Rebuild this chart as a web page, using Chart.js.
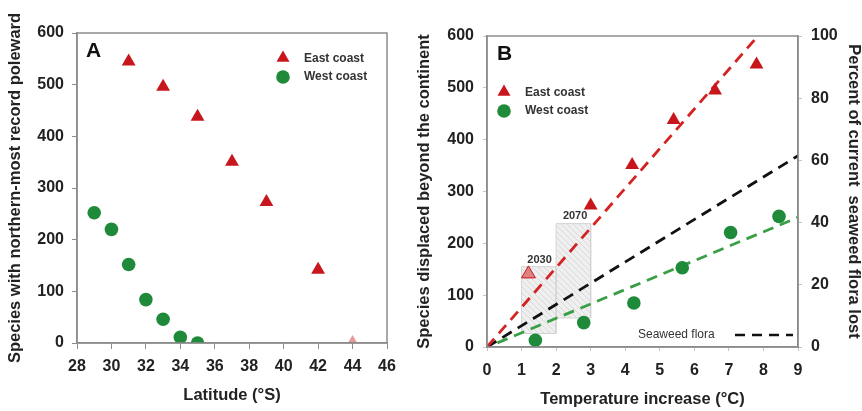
<!DOCTYPE html>
<html>
<head>
<meta charset="UTF-8">
<title>Seaweed range shifts</title>
<script src="https://cdn.jsdelivr.net/npm/chart.js@4.4.1/dist/chart.umd.min.js"></script>
<style>
  html, body { margin: 0; padding: 0; background: #fff; }
  #wrap { position: relative; width: 862px; height: 411px; }
  #boxA { position: absolute; left: 0; top: 0; width: 415px; height: 411px; }
  #boxB { position: absolute; left: 415px; top: 0; width: 447px; height: 411px; }
</style>
</head>
<body>
<div id="wrap">
  <div id="boxA"><canvas id="chartA"></canvas></div>
  <div id="boxB"><canvas id="chartB"></canvas></div>
</div>
<script>
// Panel A: latitude vs species
var latEast  = [31, 33, 35, 37, 39, 42, 44];
var eastA    = [545, 496, 438, 351, 273, 142, 0];
var latWest  = [29, 30, 31, 32, 33, 34, 35];
var westA    = [252, 220, 152, 84, 46, 11, 0];
var latTicks = [28, 30, 32, 34, 36, 38, 40, 42, 44, 46];

// Panel B: temperature increase vs species displaced
var tempEast = [1.2, 3, 4.2, 5.4, 6.6, 7.8];
var eastB    = [141, 273, 351, 438, 495, 545];
var tempWest = [1.4, 2.8, 4.25, 5.65, 7.05, 8.45];
var westB    = [13, 47, 85, 153, 221, 252];

// fitted lines (two end points each)
var eastFitX = [0, 7.84], eastFitY = [0, 600];
var westFitX = [0.3, 9],  westFitY = [8, 250];
var floraFitX = [0, 9],   floraFitY = [0, 61.5];   // percent, right axis

// projection boxes: [xFrom, xTo, yFrom, yTo]
var box2030 = [1, 2, 26, 155];
var box2070 = [2, 3, 56, 238];
var yearLabels = ['2030', '2070'];
var yearX = [1.52, 2.55];
var yearY = [167, 253];

var FONT = '"Liberation Sans", Arial, sans-serif';
var RED = '#c8161d', GREEN = '#1f8a3a', AXIS = '#8c8c8c', TXT = '#222';

function pts(xs, ys) {
    return xs.map(function (x, i) { return { x: x, y: ys[i] }; });
}
function rectPts(b) {
    return [{x:b[0],y:b[2]}, {x:b[0],y:b[3]}, {x:b[1],y:b[3]}, {x:b[1],y:b[2]}, {x:b[0],y:b[2]}];
}

// light hatch for the projection boxes
function hatch() {
    var c = document.createElement('canvas');
    c.width = 6; c.height = 6;
    var g = c.getContext('2d');
    g.fillStyle = 'rgba(236,236,236,0.85)'; g.fillRect(0, 0, 6, 6);
    g.strokeStyle = 'rgba(215,215,215,0.9)'; g.lineWidth = 1;
    g.beginPath(); g.moveTo(0, 0); g.lineTo(6, 6); g.stroke();
    return g.createPattern(c, 'repeat');
}

function tickFont()  { return { family: FONT, size: 16, weight: 'bold' }; }
function titleFont() { return { family: FONT, size: 16.5, weight: 'bold', lineHeight: 1.0 }; }

function triangle(ctx, x, y, r, fill) {
    ctx.beginPath();
    ctx.moveTo(x, y - r);
    ctx.lineTo(x + r * 0.866, y + r * 0.5);
    ctx.lineTo(x - r * 0.866, y + r * 0.5);
    ctx.closePath();
    ctx.fillStyle = fill; ctx.fill();
}
function dot(ctx, x, y, r, fill) {
    ctx.beginPath(); ctx.arc(x, y, r, 0, Math.PI * 2);
    ctx.fillStyle = fill; ctx.fill();
}
function legend(ctx, x, y) {
    ctx.font = 'bold 12px ' + FONT;
    ctx.textBaseline = 'middle'; ctx.textAlign = 'left';
    triangle(ctx, x, y, 7.5, RED);
    dot(ctx, x, y + 19, 6.8, GREEN);
    ctx.fillStyle = '#333';
    ctx.fillText('East coast', x + 21, y + 1);
    ctx.fillText('West coast', x + 21, y + 19);
}

var decorA = {
    id: 'decorA',
    afterDraw: function (chart) {
        var ctx = chart.ctx, a = chart.chartArea;
        ctx.save();
        ctx.strokeStyle = AXIS; ctx.lineWidth = 1.5;
        ctx.strokeRect(a.left, a.top, a.right - a.left, a.bottom - a.top);
        ctx.fillStyle = '#111'; ctx.font = 'bold 21px ' + FONT;
        ctx.textBaseline = 'middle'; ctx.textAlign = 'left';
        ctx.fillText('A', a.left + 9, a.top + 18);
        legend(ctx, a.left + 206, a.top + 25);
        ctx.restore();
    }
};

var decorB = {
    id: 'decorB',
    afterDraw: function (chart) {
        var ctx = chart.ctx, a = chart.chartArea;
        var sx = chart.scales.x, sy = chart.scales.y;
        ctx.save();
        ctx.strokeStyle = AXIS; ctx.lineWidth = 1.5;
        ctx.strokeRect(a.left, a.top, a.right - a.left, a.bottom - a.top);
        ctx.fillStyle = '#111'; ctx.font = 'bold 21px ' + FONT;
        ctx.textBaseline = 'middle'; ctx.textAlign = 'left';
        ctx.fillText('B', a.left + 10, a.top + 18);
        legend(ctx, a.left + 17, a.top + 56);

        // year labels over the boxes
        ctx.font = 'bold 11px ' + FONT; ctx.fillStyle = '#333'; ctx.textAlign = 'center';
        yearLabels.forEach(function (t, i) {
            ctx.fillText(t, sx.getPixelForValue(yearX[i]), sy.getPixelForValue(yearY[i]));
        });

        // seaweed flora key
        ctx.font = '12px ' + FONT; ctx.fillStyle = '#333'; ctx.textAlign = 'left';
        ctx.fillText('Seaweed flora', a.left + 151, a.bottom - 12);
        ctx.strokeStyle = '#111'; ctx.lineWidth = 2.5; ctx.setLineDash([10, 7]);
        ctx.beginPath(); ctx.moveTo(a.left + 248, a.bottom - 12); ctx.lineTo(a.left + 306, a.bottom - 12); ctx.stroke();
        ctx.restore();
    }
};

new Chart(document.getElementById('chartA'), {
    type: 'scatter',
    data: {
        datasets: [
            { label: 'East coast', data: pts(latEast, eastA), pointStyle: 'triangle', pointRadius: 8,
              pointBackgroundColor: [RED, RED, RED, RED, RED, RED, 'rgba(214,70,70,0.55)'], pointBorderWidth: 0 },
            { label: 'West coast', data: pts(latWest, westA), pointStyle: 'circle', pointRadius: 6.8,
              pointBackgroundColor: GREEN, pointBorderWidth: 0 }
        ]
    },
    options: {
        responsive: true, maintainAspectRatio: false, animation: false,
        layout: { padding: { top: 33, right: 28, left: 0, bottom: 0 } },
        plugins: { legend: { display: false }, tooltip: { enabled: false } },
        scales: {
            x: {
                type: 'linear', min: 28, max: 46,
                afterBuildTicks: function (s) { s.ticks = latTicks.map(function (v) { return { value: v }; }); },
                ticks: { color: TXT, font: tickFont(), padding: 8 },
                grid: { drawOnChartArea: false, tickLength: 6, color: AXIS },
                border: { color: AXIS, width: 1.5 },
                title: { display: true, text: 'Latitude (°S)', color: TXT, font: titleFont(), padding: { top: 0, bottom: 7 } },
                afterFit: function (s) { s.height = 68; }
            },
            y: {
                type: 'linear', min: 0, max: 600,
                ticks: { stepSize: 100, color: TXT, font: tickFont(), padding: 8 },
                grid: { drawOnChartArea: false, tickLength: 5, color: AXIS },
                border: { color: AXIS, width: 1.5 },
                title: { display: true, text: 'Species with northern-most record poleward', color: TXT, font: titleFont(), padding: { top: 7, bottom: 0 } },
                afterFit: function (s) { s.width = 77; }
            }
        }
    },
    plugins: [decorA]
});

var pat = hatch();

new Chart(document.getElementById('chartB'), {
    type: 'scatter',
    data: {
        datasets: [
            { label: 'East coast', data: pts(tempEast, eastB), pointStyle: 'triangle', pointRadius: 8,
              pointBackgroundColor: ['rgba(214,60,60,0.6)', RED, RED, RED, RED, RED],
              pointBorderColor: [RED, RED, RED, RED, RED, RED], pointBorderWidth: [1, 0, 0, 0, 0, 0] },
            { label: 'West coast', data: pts(tempWest, westB), pointStyle: 'circle', pointRadius: 6.8,
              pointBackgroundColor: GREEN, pointBorderWidth: 0 },
            { label: 'East fit', data: pts(eastFitX, eastFitY), showLine: true, pointRadius: 0,
              borderColor: '#d42222', borderWidth: 2.8, borderDash: [11, 7] },
            { label: 'West fit', data: pts(westFitX, westFitY), showLine: true, pointRadius: 0,
              borderColor: '#3a9e44', borderWidth: 2.8, borderDash: [11, 7] },
            { label: 'Seaweed flora', data: pts(floraFitX, floraFitY), yAxisID: 'y2', showLine: true, pointRadius: 0,
              borderColor: '#111', borderWidth: 2.8, borderDash: [11, 7] },
            { label: '2030', data: rectPts(box2030), showLine: true, pointRadius: 0, fill: 'shape',
              backgroundColor: pat, borderColor: '#d4d4d4', borderWidth: 1 },
            { label: '2070', data: rectPts(box2070), showLine: true, pointRadius: 0, fill: 'shape',
              backgroundColor: pat, borderColor: '#d4d4d4', borderWidth: 1 }
        ]
    },
    options: {
        responsive: true, maintainAspectRatio: false, animation: false,
        layout: { padding: { top: 36, right: 0, left: 0, bottom: 0 } },
        plugins: { legend: { display: false }, tooltip: { enabled: false }, filler: { propagate: false } },
        scales: {
            x: {
                type: 'linear', min: 0, max: 9,
                ticks: { stepSize: 1, color: TXT, font: tickFont(), padding: 10 },
                grid: { drawOnChartArea: false, tickLength: 4, color: '#c4c4c4' },
                border: { color: AXIS, width: 1.5 },
                title: { display: true, text: 'Temperature increase (°C)', color: TXT, font: titleFont(), padding: { top: 0, bottom: 3 } },
                afterFit: function (s) { s.height = 64; }
            },
            y: {
                type: 'linear', position: 'left', min: 0, max: 600,
                ticks: { stepSize: 100, color: TXT, font: tickFont(), padding: 9 },
                grid: { drawOnChartArea: false, tickLength: 4, color: '#c4c4c4' },
                border: { color: AXIS, width: 1.5 },
                title: { display: true, text: 'Species displaced beyond the continent', color: TXT, font: titleFont(), padding: { top: 1, bottom: 0 } },
                afterFit: function (s) { s.width = 72; }
            },
            y2: {
                type: 'linear', position: 'right', min: 0, max: 100,
                ticks: { stepSize: 20, color: TXT, font: tickFont(), padding: 9 },
                grid: { drawOnChartArea: false, tickLength: 4, color: '#c4c4c4' },
                border: { color: AXIS, width: 1.5 },
                title: { display: true, text: 'Percent of current  seaweed flora lost', color: TXT, font: titleFont(), padding: { top: 0, bottom: 0 } },
                afterFit: function (s) { s.width = 64; }
            }
        }
    },
    plugins: [decorB]
});
</script>
</body>
</html>
